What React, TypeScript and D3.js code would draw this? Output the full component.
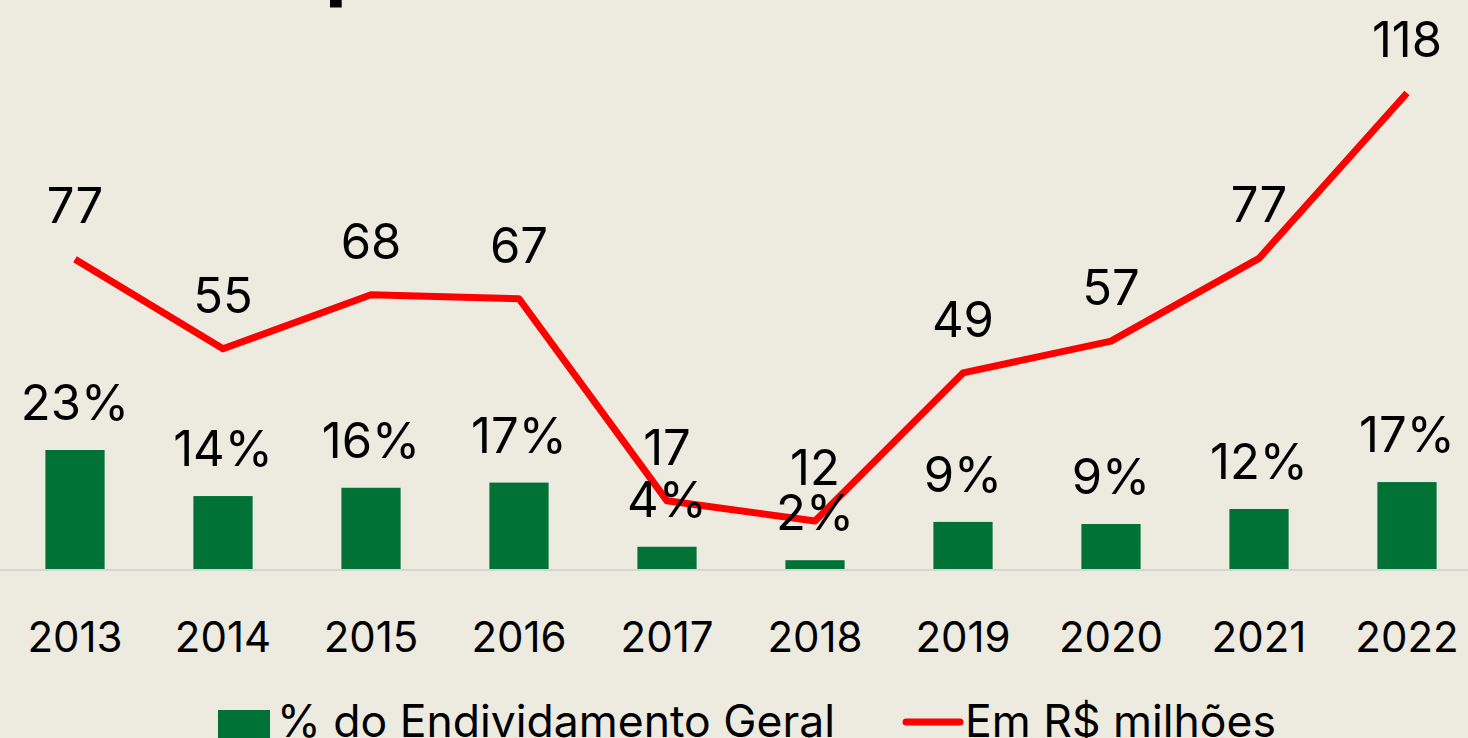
import React from 'react';
import {scaleBand, scaleLinear, line} from 'd3';

const width = 1468;
const height = 738;
const years = ['2013','2014','2015','2016','2017','2018','2019','2020','2021','2022'];
const pctValues = [23.0, 14.1, 15.7, 16.7, 4.3, 1.7, 9.1, 8.7, 11.6, 16.8];
const pctLabels = ['23%','14%','16%','17%','4%','2%','9%','9%','12%','17%'];
const milValues = [76.8, 54.6, 68, 67, 16.9, 11.9, 48.6, 56.5, 77, 118];
const milLabels = ['77','55','68','67','17','12','49','57','77','118'];

const bg = '#EDEBE0';
const green = '#007236';
const red = '#FF0000';
const font = 'Inter, "Noto Sans", sans-serif';
const baseY = 569;

export default function App() {
  const x = scaleBand<string>().domain(years).range([1, 1481]).paddingInner(0.6).paddingOuter(0.3);
  const yPct = scaleLinear().domain([0, 23]).range([baseY, 450]);
  const yMil = scaleLinear().domain([0, 118]).range([baseY, 93]);
  const cx = (d: string) => (x(d) as number) + x.bandwidth() / 2;

  const path = line<number>()
    .x((_, i) => cx(years[i]))
    .y(d => yMil(d))(milValues) as string;

  return (
    <svg width={width} height={height} style={{position: 'absolute', left: 0, top: 0, display: 'block'}}>
      <rect x={0} y={0} width={width} height={height} fill={bg} />
      {/* title, cut off by the crop */}
      <text x={325} y={-9} fontFamily={font} fontWeight={700} fontSize={80} fill="#000">p</text>

      <line x1={0} x2={width} y1={baseY + 1} y2={baseY + 1} stroke="#D6D6D0" strokeWidth={2} />

      {pctValues.map((v, i) => (
        <rect key={years[i]} x={x(years[i])} y={yPct(v)} width={x.bandwidth()} height={baseY - yPct(v)} fill={green} />
      ))}

      <path d={path} fill="none" stroke={red} strokeWidth={7} strokeLinejoin="round" />

      {pctValues.map((v, i) => (
        <text key={'p' + i} x={cx(years[i])} y={yPct(v) - 30} textAnchor="middle" fontFamily={font} fontSize={49} fill="#000">{pctLabels[i]}</text>
      ))}
      {milValues.map((v, i) => (
        <text key={'m' + i} x={cx(years[i])} y={yMil(v) - 36} textAnchor="middle" fontFamily={font} fontSize={49} fill="#000">{milLabels[i]}</text>
      ))}

      {years.map(d => (
        <text key={'y' + d} x={cx(d)} y={652} textAnchor="middle" fontFamily={font} fontSize={42} fill="#000">{d}</text>
      ))}

      <g>
        <rect x={218} y={710} width={52} height={40} fill={green} />
        <text x={277} y={737} fontFamily={font} fontSize={44.5} fill="#000">% do Endividamento Geral</text>
        <line x1={906} x2={960} y1={722} y2={722} stroke={red} strokeWidth={7} strokeLinecap="round" />
        <text x={965} y={737} fontFamily={font} fontSize={44.5} fill="#000">Em R$ milhões</text>
      </g>
    </svg>
  );
}
